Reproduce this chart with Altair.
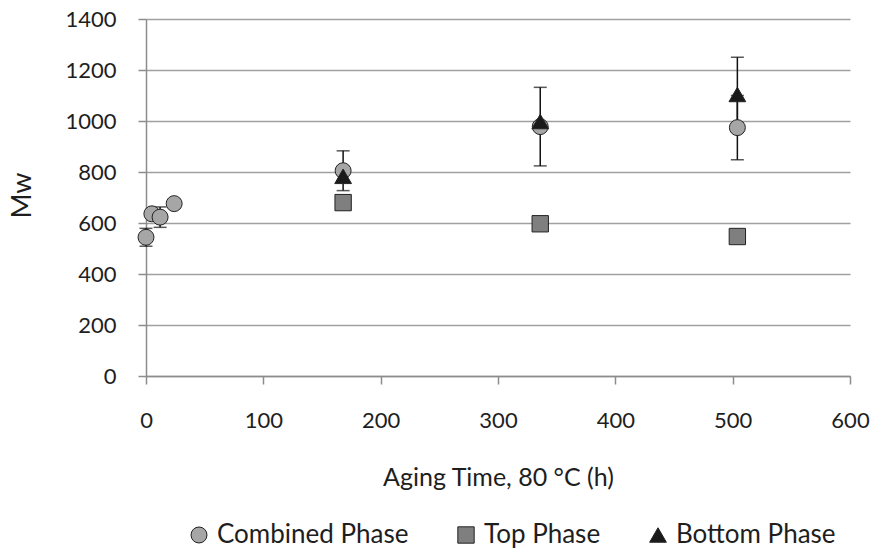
import altair as alt
import pandas as pd

# ---- data ----
combined_x = [0, 5, 12, 24, 168, 336, 504]
combined_y = [544, 636, 623, 676, 805, 978, 974]
combined_err = [35, 0, 40, 0, 78, 154, 126]

top_x = [168, 336, 504]
top_y = [680, 597, 547]

bottom_x = [168, 336, 504]
bottom_y = [783, 998, 1104]
bottom_err = [0, 0, 146]

series_names = ["Combined Phase", "Top Phase", "Bottom Phase"]
series_fill = ["#a6a6a6", "#7f7f7f", "#1a1a1a"]
series_shape = ["circle", "square", "triangle-up"]
series_size = [255, 280, 370]

x_ticks = [0, 100, 200, 300, 400, 500, 600]
y_ticks = [0, 200, 400, 600, 800, 1000, 1200, 1400]

rows = []
for x, y, e in zip(combined_x, combined_y, combined_err):
    rows.append({"x": x, "y": y, "err": e, "series": series_names[0]})
for x, y in zip(top_x, top_y):
    rows.append({"x": x, "y": y, "err": 0, "series": series_names[1]})
for x, y, e in zip(bottom_x, bottom_y, bottom_err):
    rows.append({"x": x, "y": y, "err": e, "series": series_names[2]})
df = pd.DataFrame(rows)
df["lo"] = df["y"] - df["err"]
df["hi"] = df["y"] + df["err"]
err_df = df[df["err"] > 0]

FONT = "Lato"
TXT = "#1e1e1e"

xscale = alt.Scale(domain=[0, 600], nice=False)
yscale = alt.Scale(domain=[0, 1400], nice=False)

x_enc = alt.X("x:Q", scale=xscale, title="Aging Time, 80 °C (h)",
              axis=alt.Axis(values=x_ticks, grid=False, format="d", labelFlush=False,
                            labelFont=FONT, labelFontSize=22, labelColor=TXT,
                            titleFont=FONT, titleFontSize=25, titleFontWeight="normal",
                            titleColor=TXT, domainColor="#8c8c8c", domainWidth=1.5,
                            tickColor="#8c8c8c", tickSize=8, tickWidth=1.5,
                            labelPadding=26, titlePadding=34))
y_enc = alt.Y("y:Q", scale=yscale, title="Mw",
              axis=alt.Axis(values=y_ticks, grid=True, gridColor="#a0a0a0", gridWidth=1.5,
                            format="d", labelFlush=False,
                            labelFont=FONT, labelFontSize=22, labelColor=TXT,
                            titleFont=FONT, titleFontSize=27, titleFontWeight="normal",
                            titleColor=TXT, titleAngle=-90, titleBaseline="middle",
                            titleAlign="center", titleX=-124, titleY=176,
                            domainColor="#8c8c8c", domainWidth=1.5, tickColor="#8c8c8c",
                            tickSize=8, tickWidth=1.5, labelPadding=22))

rules = alt.Chart(err_df).mark_rule(color="#111", strokeWidth=1.5).encode(
    x=alt.X("x:Q", scale=xscale), y=alt.Y("lo:Q", scale=yscale), y2="hi:Q")
cap_lo = alt.Chart(err_df).mark_tick(color="#111", thickness=1.5, size=13, orient="horizontal").encode(
    x=alt.X("x:Q", scale=xscale), y=alt.Y("lo:Q", scale=yscale))
cap_hi = alt.Chart(err_df).mark_tick(color="#111", thickness=1.5, size=13, orient="horizontal").encode(
    x=alt.X("x:Q", scale=xscale), y=alt.Y("hi:Q", scale=yscale))

points = alt.Chart(df).mark_point(filled=True, opacity=1, stroke="#222", strokeWidth=1).encode(
    x=x_enc,
    y=y_enc,
    color=alt.Color("series:N", sort=series_names,
                    scale=alt.Scale(domain=series_names, range=series_fill),
                    legend=alt.Legend(title=None, orient="none", direction="horizontal",
                                      legendX=40, legendY=503, labelFont=FONT, labelFontSize=26,
                                      labelColor=TXT, symbolStrokeColor="#222",
                                      symbolStrokeWidth=1, symbolSize=170, columnPadding=44,
                                      labelOffset=5, labelLimit=400)),
    shape=alt.Shape("series:N", sort=series_names,
                    scale=alt.Scale(domain=series_names, range=series_shape)),
    size=alt.Size("series:N", sort=series_names,
                  scale=alt.Scale(domain=series_names, range=series_size), legend=None),
)

chart = alt.layer(rules, cap_lo, cap_hi, points).properties(
    width=704, height=357,
    padding={"left": 146, "top": 19, "right": 26, "bottom": 176},
    autosize=alt.AutoSizeParams(type="none"),
    background="white",
).configure_view(stroke=None)

chart.save("out.html", embed_options={"renderer": "svg", "actions": False})
